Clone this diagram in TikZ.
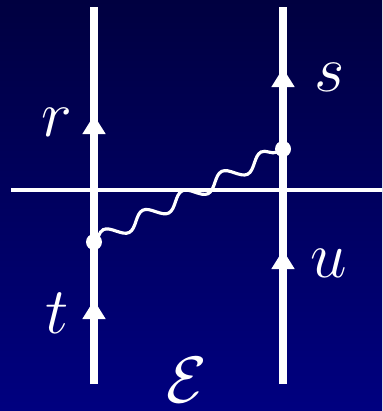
\documentclass[tikz,border=0pt]{standalone}
\usepackage{amsmath,amssymb}
\usepackage{xcolor}
\definecolor{fdtop}{HTML}{000040}
\definecolor{fdbot}{HTML}{000080}
\usepackage{tikz}
\usetikzlibrary{arrows.meta,decorations.pathmorphing,decorations.markings}
\tikzset{
  fdline/.style={draw=white,line width=5.1pt},
  fdcut/.style={draw=white,line width=2.2pt},
  fdphoton/.style={draw=white,line width=1.8pt,decorate,decoration={snake,amplitude=0.14cm,segment length=0.88cm,pre length=0pt,post length=0pt}},
  fdarrows/.style 2 args={postaction={decorate,decoration={markings,
      mark=at position #1 with {\arrow{Triangle[length=0.38cm,width=0.44cm]}},
      mark=at position #2 with {\arrow{Triangle[length=0.38cm,width=0.44cm]}}}}},
  fddot/.style={circle,fill=white,inner sep=0pt,minimum size=0.32cm},
  fdlabel/.style={text=white,anchor=base,font=\Huge,scale=1.5},
}
\begin{document}
\begin{tikzpicture}[x=0.02cm,y=-0.02cm]
\shade[top color=fdtop,bottom color=fdbot] (0,0) rectangle (382,411);
\useasboundingbox (0,0) rectangle (382,411);

% fermion lines
\coordinate (lb) at (94,384); \coordinate (lt) at (94,7);
\coordinate (rb) at (283,384); \coordinate (rt) at (283,7);
\coordinate (cl) at (11,190); \coordinate (cr) at (382,190);
\draw[fdcut] (cl) -- (cr);
\draw[fdline,fdarrows={1.68cm}{5.38cm}] (lb) -- (lt);
\draw[fdline,fdarrows={2.68cm}{6.32cm}] (rb) -- (rt);

% photon
\node[fddot] (tv) at (94,242) {};
\node[fddot] (sv) at (283,149) {};
\draw[fdphoton] (tv.center) -- (sv.center);

% labels
\node[fdlabel] (lr) at (57,137) {$r$};
\node[fdlabel] (lt2) at (57,333) {$t$};
\node[fdlabel] (ls) at (330,92) {$s$};
\node[fdlabel] (lu) at (329,277) {$u$};
\node[fdlabel] (le) at (187,402) {$\mathcal{E}$};
\end{tikzpicture}
\end{document}
